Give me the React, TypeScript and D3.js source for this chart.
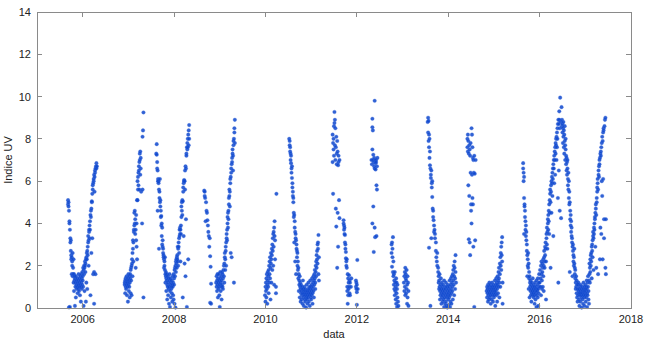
import React from "react";
import * as d3 from "d3";

// ---- Data: [decimal year, UV index] ----
const season2005: [number, number][] = [
  [2005.68,5.1],[2005.68,4.9],[2005.69,5.0],[2005.69,4.8],[2005.70,4.6],[2005.70,0.03],[2005.71,4.1],[2005.71,4.0],[2005.72,3.7],[2005.72,0.05],[2005.73,3.3],[2005.73,3.1],[2005.74,3.2],[2005.74,2.7],[2005.75,2.5],[2005.75,2.3],[2005.76,2.4],[2005.76,1.6],[2005.77,2.2],[2005.77,2.0],[2005.78,2.6],[2005.78,1.5],[2005.79,1.9],[2005.79,1.6],[2005.80,2.3],[2005.80,1.2],[2005.81,1.6],[2005.81,0.8],[2005.82,1.5],[2005.82,1.3],[2005.83,1.4],[2005.83,0.1],
  [2005.84,1.2],[2005.84,1.0],[2005.85,1.5],[2005.85,0.5],[2005.86,1.3],[2005.86,1.1],[2005.87,1.0],[2005.87,0.9],[2005.88,1.2],[2005.88,1.4],[2005.89,0.7],[2005.89,1.0],[2005.90,1.3],[2005.90,1.1],[2005.91,0.9],[2005.91,1.6],[2005.92,1.2],[2005.92,0.8],[2005.93,1.0],[2005.93,1.4],[2005.94,1.1],[2005.94,0.6],[2005.95,1.3],[2005.95,1.5],[2005.96,1.0],[2005.96,0.3],[2005.97,1.2],[2005.97,1.6],[2005.98,1.4],[2005.98,0.9],[2005.99,1.1],[2005.99,1.7],[2006.00,1.5],[2006.00,1.3],[2006.01,1.9],[2006.01,1.0],[2006.02,1.8],[2006.02,0.1],[2006.03,1.6],[2006.03,2.0],
  [2006.04,1.9],[2006.04,0.8],[2006.05,2.0],[2006.05,2.2],[2006.06,1.7],[2006.06,2.1],[2006.07,2.3],[2006.07,0.3],[2006.08,2.4],[2006.08,1.2],[2006.09,2.6],[2006.09,2.3],[2006.10,2.7],[2006.10,0.9],[2006.11,2.9],[2006.11,2.5],[2006.12,3.1],[2006.12,3.4],[2006.13,3.2],[2006.13,2.0],[2006.14,3.6],[2006.14,3.7],[2006.15,3.9],[2006.15,3.3],[2006.16,4.1],[2006.16,3.7],[2006.17,4.4],[2006.17,0.6],[2006.18,4.6],[2006.18,4.3],[2006.19,4.7],[2006.19,2.6],[2006.20,5.0],[2006.20,5.05],[2006.21,5.4],[2006.21,3.3],[2006.22,5.6],[2006.22,5.8],[2006.23,5.9],[2006.23,1.6],[2006.24,6.0],[2006.24,6.1],[2006.25,6.3],[2006.25,1.7],[2006.26,6.2],[2006.26,5.5],[2006.27,6.4],[2006.27,6.5],[2006.28,6.6],[2006.28,1.6],[2006.29,6.7],[2006.25,0.2],[2006.30,6.85],[2006.30,6.6],[2006.31,6.7],
];

const season2007: [number, number][] = [
  [2006.92,1.2],[2006.92,1.1],[2006.93,1.3],[2006.93,0.7],[2006.94,1.0],[2006.94,1.4],[2006.95,1.2],[2006.95,0.9],[2006.96,1.5],[2006.96,1.1],[2006.97,1.3],[2006.97,0.6],[2006.98,1.0],[2006.98,1.2],[2006.99,1.4],[2006.99,0.3],[2007.00,1.1],[2007.00,1.6],[2007.01,1.3],[2007.01,0.8],[2007.02,1.5],[2007.02,1.0],[2007.03,1.2],[2007.03,0.5],[2007.04,1.6],[2007.04,1.4],[2007.05,1.8],[2007.05,0.7],[2007.06,1.9],[2007.06,1.3],[2007.07,2.0],[2007.07,0.6],[2007.08,2.1],[2007.08,2.3],[2007.09,2.6],[2007.09,1.5],[2007.10,2.8],[2007.10,3.2],[2007.11,3.1],[2007.11,2.2],[2007.12,3.6],[2007.12,3.7],[2007.13,3.9],[2007.13,4.5],[2007.14,4.0],[2007.14,4.6],[2007.15,3.5],[2007.15,4.2],[2007.16,3.7],[2007.16,1.9],[2007.17,4.4],[2007.17,3.2],[2007.18,4.0],[2007.18,2.9],[2007.19,5.1],[2007.19,2.3],[2007.20,5.1],[2007.20,6.0],[2007.21,5.6],[2007.21,6.2],[2007.22,5.8],[2007.22,6.4],[2007.23,6.5],[2007.23,6.7],[2007.24,6.9],[2007.24,5.6],[2007.25,7.0],[2007.25,7.3],[2007.26,7.4],[2007.26,6.3],[2007.27,6.6],[2007.27,7.1],[2007.28,5.5],[2007.31,8.1],[2007.32,8.4],[2007.33,9.25],[2007.33,0.5],[2007.31,5.6],[2007.30,4.0],
];

const season2008: [number, number][] = [
  [2007.61,7.3],[2007.62,7.75],[2007.62,7.25],[2007.63,6.9],[2007.63,6.6],[2007.64,6.5],[2007.64,4.6],[2007.65,6.1],[2007.65,6.0],[2007.66,6.0],[2007.66,5.9],[2007.67,5.6],[2007.67,2.8],[2007.68,5.5],[2007.68,5.2],[2007.69,5.0],[2007.69,6.1],[2007.70,4.8],[2007.70,5.1],[2007.71,4.6],[2007.71,4.3],[2007.72,4.35],[2007.72,3.9],[2007.73,4.0],[2007.73,3.4],[2007.74,3.8],[2007.74,3.0],[2007.75,2.9],[2007.75,3.2],[2007.76,2.6],[2007.76,2.8],[2007.77,2.4],[2007.77,2.5],[2007.78,2.3],[2007.78,1.9],[2007.79,2.2],[2007.79,2.0],[2007.80,1.8],[2007.80,2.4],[2007.81,1.6],[2007.81,1.2],[2007.82,1.5],[2007.82,1.7],[2007.83,1.4],[2007.83,0.8],[2007.84,1.3],[2007.84,1.6],[2007.85,1.1],[2007.85,0.4],[2007.86,1.5],[2007.86,1.0],[2007.87,1.2],[2007.87,0.6],[2007.88,1.4],[2007.88,0.9],[2007.89,1.0],[2007.89,0.2],[2007.90,1.3],[2007.90,1.6],[2007.91,0.8],[2007.91,0.05],[2007.92,1.1],[2007.92,1.4],[2007.93,1.2],[2007.93,0.5],[2007.94,0.9],[2007.94,1.0],[2007.95,1.3],[2007.95,0.7],[2007.96,1.1],[2007.96,0.3],[2007.97,1.5],[2007.97,1.0],[2007.98,1.2],[2007.98,0.6],[2007.99,1.6],[2007.99,0.4],[2008.00,1.4],[2008.00,1.1],[2008.01,1.8],[2008.01,0.2],[2008.02,1.9],[2008.02,1.5],[2008.03,2.0],[2008.03,0.02],[2008.04,2.2],[2008.04,1.7],[2008.05,2.3],[2008.05,2.1],[2008.06,2.4],[2008.06,1.9],[2008.07,2.3],[2008.07,2.5],[2008.08,2.2],[2008.08,2.9],[2008.09,2.8],[2008.09,2.0],[2008.10,2.9],[2008.10,3.1],[2008.11,3.3],[2008.11,2.6],[2008.12,3.4],[2008.12,3.7],[2008.13,3.8],[2008.13,3.5],[2008.14,3.7],[2008.14,2.2],[2008.15,3.5],[2008.15,3.9],[2008.16,4.3],[2008.16,4.8],[2008.17,4.6],[2008.17,5.0],[2008.18,5.1],[2008.18,4.4],[2008.19,5.05],[2008.19,0.5],[2008.20,5.5],[2008.20,5.7],[2008.21,5.9],[2008.21,3.4],[2008.22,6.0],[2008.22,6.05],[2008.23,6.0],[2008.23,2.1],[2008.24,5.6],[2008.24,6.5],[2008.25,6.7],[2008.25,1.5],[2008.26,6.6],[2008.26,4.2],[2008.27,7.3],[2008.27,7.2],[2008.28,7.6],[2008.28,0.05],[2008.29,7.8],[2008.29,7.5],[2008.30,8.0],[2008.30,7.6],[2008.31,8.2],[2008.31,2.3],[2008.32,8.4],[2008.32,7.7],[2008.33,8.65],[2008.33,8.0],
];

const season2009: [number, number][] = [
  [2008.66,5.55],[2008.67,5.5],[2008.67,5.3],[2008.68,5.2],[2008.69,4.1],[2008.70,5.0],[2008.71,4.6],[2008.72,4.5],[2008.73,4.15],[2008.74,3.9],[2008.75,3.6],[2008.76,3.4],[2008.77,2.9],[2008.78,3.3],[2008.79,0.25],[2008.79,2.45],[2008.80,1.95],[2008.81,0.2],[2008.81,1.15],
  [2008.92,1.2],[2008.93,1.0],[2008.93,1.5],[2008.94,0.8],[2008.94,1.3],[2008.95,1.6],[2008.95,1.1],[2008.96,0.5],[2008.96,1.4],[2008.97,1.2],[2008.97,0.9],[2008.98,1.0],[2008.98,1.6],[2008.99,1.3],[2008.99,0.6],[2009.00,1.1],[2009.00,0.05],[2009.01,1.4],[2009.01,1.7],[2009.02,1.2],[2009.02,0.8],[2009.03,1.5],[2009.03,1.0],[2009.04,1.3],[2009.04,0.4],[2009.05,1.7],[2009.05,1.1],[2009.06,1.6],[2009.06,1.0],[2009.07,1.4],[2009.07,0.9],
  [2009.08,1.8],[2009.09,2.0],[2009.09,1.5],[2009.10,2.1],[2009.10,1.2],[2009.11,2.4],[2009.11,2.6],[2009.12,2.3],[2009.12,1.8],[2009.13,2.9],[2009.13,2.7],[2009.14,3.1],[2009.14,2.0],[2009.15,3.3],[2009.15,3.5],[2009.16,3.7],[2009.16,3.2],[2009.17,4.0],[2009.17,4.3],[2009.18,3.8],[2009.18,4.5],[2009.19,4.6],[2009.19,4.2],[2009.20,4.9],[2009.20,5.2],[2009.21,5.3],[2009.21,5.6],[2009.22,5.5],[2009.22,4.8],[2009.23,5.9],[2009.23,6.1],[2009.24,6.2],[2009.24,2.6],[2009.25,6.4],[2009.25,6.6],[2009.26,6.8],[2009.26,2.4],[2009.27,6.9],[2009.27,7.1],[2009.28,7.3],[2009.28,7.5],[2009.29,7.2],[2009.29,6.5],[2009.30,7.7],[2009.30,7.9],[2009.31,8.0],[2009.31,1.2],[2009.32,8.3],[2009.32,8.5],[2009.33,8.9],[2009.33,7.8],
];

const season2010: [number, number][] = [
  [2009.99,0.6],[2010.00,1.0],[2010.00,0.3],[2010.01,1.2],[2010.01,0.8],[2010.02,1.4],[2010.02,0.5],[2010.03,0.9],[2010.03,1.6],[2010.04,1.1],[2010.04,0.2],[2010.05,1.3],[2010.05,1.7],[2010.06,1.0],[2010.06,1.5],[2010.07,1.8],[2010.07,0.7],[2010.08,1.2],[2010.08,2.0],[2010.09,1.6],[2010.09,2.2],[2010.10,1.4],[2010.10,2.4],[2010.11,1.9],[2010.11,0.4],[2010.12,2.1],[2010.12,2.6],[2010.13,2.3],[2010.13,1.2],[2010.14,2.8],[2010.14,2.5],[2010.15,3.0],[2010.15,1.8],[2010.16,2.7],[2010.16,3.3],[2010.17,2.0],[2010.17,3.5],[2010.18,3.6],[2010.18,2.9],[2010.19,3.8],[2010.19,1.1],[2010.20,3.4],[2010.20,4.1],[2010.21,3.2],[2010.21,2.3],[2010.23,1.0],[2010.24,5.4],[2010.23,0.7],
  [2010.52,8.0],[2010.53,7.9],[2010.53,7.7],[2010.54,7.6],[2010.54,7.4],[2010.55,7.3],[2010.55,7.0],[2010.56,7.2],[2010.56,6.85],[2010.57,6.6],[2010.57,6.4],[2010.58,6.7],[2010.58,6.15],[2010.59,5.9],[2010.59,5.7],[2010.60,5.5],[2010.60,5.3],[2010.61,5.2],[2010.61,5.0],[2010.62,4.5],[2010.62,4.3],[2010.63,4.4],[2010.63,3.1],[2010.64,4.1],[2010.64,3.8],[2010.65,3.6],[2010.65,2.2],[2010.66,3.5],[2010.66,3.3],[2010.67,3.2],[2010.67,1.6],[2010.68,3.0],[2010.68,2.8],[2010.69,2.7],[2010.69,2.4],[2010.70,2.6],[2010.70,2.0],[2010.71,2.2],[2010.71,1.8],[2010.72,1.9],[2010.72,1.4],[2010.73,1.6],[2010.73,0.8],[2010.74,1.3],[2010.74,1.1],[2010.75,1.5],[2010.75,0.5],[2010.76,1.0],[2010.76,1.2],[2010.77,0.9],[2010.77,0.3],[2010.78,1.1],[2010.78,0.7],[2010.79,0.8],[2010.79,0.4],[2010.80,1.0],[2010.80,0.6],[2010.81,0.9],[2010.81,0.2],[2010.82,0.7],[2010.82,1.3],[2010.83,0.5],[2010.83,0.9],[2010.84,0.8],[2010.84,0.1],[2010.85,0.6],[2010.85,1.0],[2010.86,0.4],[2010.86,0.7],[2010.87,0.9],[2010.87,0.3],[2010.88,0.6],[2010.88,0.8],[2010.89,0.5],[2010.89,0.02],[2010.90,0.7],[2010.90,1.1],[2010.91,0.4],[2010.91,0.8],[2010.92,0.6],[2010.92,0.2],[2010.93,0.9],[2010.93,0.5],[2010.94,0.7],[2010.94,1.2],[2010.95,0.3],[2010.95,0.8],[2010.96,0.6],[2010.96,1.0],[2010.97,0.9],[2010.97,0.1],[2010.98,0.7],[2010.98,1.3],[2010.99,0.5],[2010.99,1.0],[2011.00,0.8],[2011.00,0.4],[2011.01,1.1],[2011.01,0.6],[2011.02,0.9],[2011.02,1.4],[2011.03,0.7],[2011.03,0.2],[2011.04,1.2],[2011.04,1.0],[2011.05,0.8],[2011.05,1.5],[2011.06,1.3],[2011.06,0.5],[2011.07,1.6],[2011.07,1.1],[2011.08,1.4],[2011.08,1.8],[2011.09,1.2],[2011.09,0.9],[2011.10,2.0],[2011.10,1.7],[2011.11,2.2],[2011.11,1.5],[2011.12,2.5],[2011.12,1.9],[2011.13,2.7],[2011.13,2.3],[2011.14,3.0],[2011.14,2.1],[2011.15,3.1],[2011.15,2.8],[2011.16,3.45],[2011.16,1.6],[2011.17,2.4],[2011.17,1.3],
];

const season2012: [number, number][] = [
  [2011.47,8.2],[2011.47,6.9],[2011.48,7.8],[2011.48,5.4],[2011.49,8.0],[2011.49,7.5],[2011.50,8.6],[2011.50,7.2],[2011.51,9.27],[2011.51,8.75],[2011.52,8.9],[2011.52,7.7],[2011.53,8.5],[2011.53,7.0],[2011.54,7.6],[2011.54,4.7],[2011.55,8.1],[2011.55,3.85],[2011.56,7.3],[2011.56,6.8],[2011.57,7.9],[2011.57,1.9],[2011.58,7.4],[2011.58,4.5],[2011.59,6.75],[2011.59,2.9],[2011.60,7.2],[2011.60,6.9],[2011.61,5.1],[2011.62,4.25],[2011.62,7.0],
  [2011.71,4.15],[2011.71,4.0],[2011.72,3.9],[2011.72,3.7],[2011.73,3.8],[2011.73,3.5],[2011.74,3.45],[2011.74,3.1],[2011.75,3.0],[2011.75,2.8],[2011.76,2.65],[2011.76,2.35],[2011.77,2.2],[2011.77,2.0],[2011.78,1.9],[2011.78,2.3],[2011.79,1.0],[2011.79,0.8],[2011.80,0.2],[2011.80,1.6],[2011.81,1.4],[2011.81,0.6],[2011.82,1.2],[2011.82,0.9],[2011.83,1.55],[2011.83,1.0],[2011.84,1.3],[2011.84,0.7],[2011.85,1.2],[2011.85,0.6],[2011.87,1.0],[2011.88,1.4],
  [2011.98,1.3],[2011.98,1.0],[2011.99,0.9],[2011.99,1.2],[2012.00,0.75],[2012.00,1.1],[2012.00,0.15],[2012.01,2.27],[2012.02,0.9],
  [2012.32,7.0],[2012.33,6.8],[2012.34,8.95],[2012.34,8.55],[2012.34,7.5],[2012.34,4.0],[2012.35,8.4],[2012.35,7.0],[2012.36,7.25],[2012.36,4.8],[2012.37,6.9],[2012.37,2.65],[2012.38,7.1],[2012.38,6.7],[2012.39,9.8],[2012.39,3.8],[2012.39,6.6],[2012.40,7.0],[2012.40,3.35],[2012.41,6.85],[2012.41,6.55],[2012.42,7.0],[2012.42,6.9],[2012.43,5.8],[2012.43,3.4],[2012.44,5.6],[2012.44,6.7],[2012.45,7.1],
];

const season2013: [number, number][] = [
  [2012.76,3.0],[2012.76,2.6],[2012.77,1.95],[2012.77,3.1],[2012.78,2.8],[2012.78,2.4],[2012.79,3.35],[2012.79,1.7],[2012.80,2.2],[2012.80,1.5],[2012.81,1.6],[2012.81,1.1],[2012.82,1.3],[2012.82,0.9],[2012.83,1.7],[2012.83,0.6],[2012.84,1.2],[2012.84,0.8],[2012.85,1.0],[2012.85,0.4],[2012.86,1.4],[2012.86,0.2],[2012.87,0.7],[2012.87,1.2],[2012.88,0.9],[2012.88,0.05],[2012.89,0.5],[2012.89,1.1],[2012.90,0.3],[2012.91,0.1],
  [2013.03,1.2],[2013.04,1.5],[2013.04,0.8],[2013.05,1.7],[2013.05,1.0],[2013.06,1.9],[2013.06,0.6],[2013.07,1.4],[2013.07,1.6],[2013.08,1.3],[2013.08,0.7],[2013.09,1.8],[2013.09,0.9],[2013.10,1.1],[2013.10,0.2],[2013.11,1.5],[2013.11,0.5],[2013.12,1.2],[2013.13,0.8],[2013.13,0.1],
  [2013.55,8.8],[2013.56,9.0],[2013.56,8.3],[2013.57,8.85],[2013.57,7.9],[2013.58,8.2],[2013.58,7.6],[2013.59,8.0],[2013.59,7.1],[2013.60,7.4],[2013.60,6.75],[2013.61,6.6],[2013.61,0.1],[2013.62,6.3],[2013.62,6.15],[2013.63,6.5],[2013.63,3.3],[2013.64,5.9],[2013.64,5.7],[2013.65,6.0],[2013.65,5.25],[2013.66,4.7],[2013.67,4.3],[2013.67,4.6],[2013.68,4.15],[2013.69,3.9],[2013.69,3.6],[2013.70,3.7],[2013.71,3.3],[2013.71,3.5],[2013.58,2.85],[2013.73,2.7],[2013.73,3.1],[2013.74,2.4],[2013.75,2.2],[2013.76,2.0],[2013.76,2.6],[2013.78,1.7],[2013.78,1.9],[2013.79,1.5],[2013.79,1.2],[2013.80,1.3],[2013.80,0.9],[2013.81,1.6],[2013.81,1.0],[2013.82,0.8],[2013.82,0.4],[2013.83,1.1],[2013.83,0.6],[2013.84,0.9],[2013.84,1.4],[2013.85,0.7],[2013.85,0.2],[2013.86,1.2],[2013.86,0.5],[2013.87,0.8],[2013.87,1.0],[2013.88,0.3],[2013.88,0.6],[2013.89,1.1],[2013.89,0.9],[2013.90,0.4],[2013.90,0.7],[2013.91,1.3],[2013.91,0.05],[2013.92,0.8],[2013.92,0.5],[2013.93,1.0],[2013.93,0.2],[2013.94,0.6],[2013.94,0.9],[2013.95,1.2],[2013.95,0.3],[2013.96,0.7],[2013.96,0.1],[2013.97,1.0],[2013.97,0.5],[2013.98,0.8],[2013.98,0.02],[2013.99,0.6],[2013.99,1.1],[2014.00,0.4],[2014.00,0.9],[2014.01,0.7],[2014.01,0.15],[2014.02,1.0],[2014.02,0.5],[2014.03,0.8],[2014.03,1.3],[2014.04,0.6],[2014.04,0.05],[2014.05,1.1],[2014.05,0.3],[2014.06,0.9],[2014.06,1.4],[2014.07,0.7],[2014.07,0.2],[2014.08,1.2],[2014.08,1.5],[2014.09,0.8],[2014.09,1.0],[2014.10,1.6],[2014.10,0.4],[2014.11,1.3],[2014.11,1.8],[2014.12,1.1],[2014.12,2.0],[2014.13,1.5],[2014.13,0.6],[2014.14,1.9],[2014.14,2.2],[2014.15,1.4],[2014.15,0.9],[2014.16,2.5],[2014.16,1.7],[2014.17,1.2],
  [2014.42,8.0],[2014.42,7.6],[2014.43,8.2],[2014.43,7.4],[2014.44,7.9],[2014.44,5.8],[2014.45,7.3],[2014.45,3.25],[2014.46,7.7],[2014.46,5.3],[2014.47,7.5],[2014.47,3.1],[2014.48,7.2],[2014.48,2.5],[2014.49,7.8],[2014.49,6.4],[2014.50,4.9],[2014.50,4.6],[2014.51,8.5],[2014.51,4.0],[2014.52,8.2],[2014.52,6.3],[2014.53,7.6],[2014.53,5.2],[2014.54,7.1],[2014.54,4.9],[2014.55,7.0],[2014.55,2.9],[2014.56,6.4],[2014.57,7.2],[2014.57,0.05],[2014.58,6.35],[2014.59,3.2],[2014.60,7.0],
];

const season2015: [number, number][] = [
  [2014.84,0.8],[2014.85,1.0],[2014.85,0.5],[2014.86,0.9],[2014.86,0.7],[2014.87,1.1],[2014.87,0.3],[2014.88,0.8],[2014.88,0.6],[2014.89,1.0],[2014.89,0.4],[2014.90,0.7],[2014.90,1.2],[2014.91,0.9],[2014.91,0.5],[2014.92,0.8],[2014.92,1.1],[2014.93,0.6],[2014.93,0.2],[2014.94,1.0],[2014.94,0.7],[2014.95,0.9],[2014.95,0.4],[2014.96,1.2],[2014.96,0.8],[2014.97,0.6],[2014.97,1.0],[2014.98,0.9],[2014.98,0.3],[2014.99,0.7],[2014.99,1.1],[2015.00,0.8],[2015.00,0.5],[2015.01,1.0],[2015.01,0.6],[2015.02,0.9],[2015.02,1.3],[2015.03,0.7],[2015.03,0.1],[2015.04,1.1],[2015.04,0.8],[2015.05,1.0],[2015.05,1.4],[2015.06,0.6],[2015.06,1.2],[2015.07,0.9],[2015.07,0.3],[2015.08,1.5],[2015.08,1.1],[2015.09,1.3],[2015.09,0.7],[2015.10,1.7],[2015.10,1.0],[2015.11,1.4],[2015.11,1.9],[2015.12,1.2],[2015.12,0.5],[2015.13,2.1],[2015.13,1.6],[2015.14,2.4],[2015.14,1.0],[2015.15,2.6],[2015.15,2.0],[2015.16,2.9],[2015.16,1.8],[2015.17,3.1],[2015.17,2.5],[2015.18,3.35],[2015.18,2.2],[2015.19,1.2],[2015.19,0.2],
  [2015.64,6.85],[2015.64,6.6],[2015.65,6.4],[2015.65,6.0],[2015.66,6.2],[2015.66,5.2],[2015.66,3.5],[2015.67,4.9],[2015.67,4.8],[2015.68,4.6],[2015.68,4.3],[2015.69,4.1],[2015.69,3.7],[2015.70,3.9],[2015.70,3.4],[2015.71,3.2],[2015.71,3.6],[2015.72,2.7],[2015.72,3.0],[2015.73,2.5],[2015.73,1.5],[2015.74,2.3],[2015.74,2.0],[2015.75,2.6],[2015.75,1.9],[2015.76,2.1],[2015.76,0.9],[2015.77,1.7],[2015.77,1.4],[2015.78,1.5],[2015.78,0.5],[2015.79,1.2],[2015.79,1.0],[2015.80,0.8],[2015.80,1.3],[2015.81,1.1],[2015.81,0.6],[2015.82,0.9],[2015.82,0.3],[2015.83,0.7],[2015.83,1.2],[2015.84,1.0],[2015.84,0.8],[2015.85,0.6],[2015.85,1.4],[2015.86,0.9],[2015.86,0.7],[2015.87,1.1],[2015.87,0.5],[2015.88,0.8],[2015.88,1.0],[2015.89,0.6],[2015.89,0.2],[2015.90,0.9],[2015.90,1.2],[2015.91,0.7],[2015.91,0.4],[2015.92,1.0],[2015.92,0.8],[2015.93,1.3],[2015.93,0.05],[2015.94,0.9],[2015.94,0.6],[2015.95,1.1],[2015.95,0.8],[2015.96,0.5],[2015.96,1.4],[2015.97,0.9],[2015.97,0.1],[2015.98,1.2],[2015.98,0.7],[2015.99,1.0],[2015.99,1.6],
];

const season2016: [number, number][] = [
  [2016.00,1.2],[2016.01,1.8],[2016.02,1.0],[2016.02,1.4],[2016.03,2.0],[2016.03,0.6],[2016.04,1.6],[2016.04,2.2],[2016.05,1.3],[2016.05,0.9],[2016.06,1.7],[2016.06,2.1],[2016.07,1.0],[2016.07,1.9],[2016.08,2.3],[2016.08,1.5],[2016.09,2.0],[2016.09,0.8],[2016.10,2.4],[2016.10,2.7],[2016.11,2.2],[2016.11,1.9],[2016.12,2.9],[2016.12,2.5],[2016.13,3.1],[2016.13,2.8],[2016.14,2.2],[2016.14,0.4],[2016.15,3.3],[2016.15,3.5],[2016.16,3.0],[2016.16,3.8],[2016.17,3.6],[2016.17,2.8],[2016.18,4.0],[2016.18,4.2],[2016.19,3.7],[2016.19,4.4],[2016.20,4.6],[2016.20,4.1],[2016.21,4.9],[2016.21,3.5],[2016.22,5.1],[2016.22,4.5],[2016.23,5.4],[2016.23,5.6],[2016.24,5.0],[2016.24,1.9],[2016.25,5.8],[2016.25,5.5],[2016.26,6.0],[2016.26,4.5],[2016.27,6.2],[2016.27,5.9],[2016.28,6.4],[2016.28,5.3],[2016.29,6.6],[2016.29,6.1],[2016.30,6.8],[2016.30,3.4],[2016.31,7.0],[2016.31,6.6],[2016.32,7.2],[2016.32,5.9],[2016.33,7.4],[2016.33,7.0],[2016.34,7.6],[2016.34,6.3],[2016.35,7.8],[2016.35,7.3],[2016.36,7.7],[2016.36,8.0],[2016.37,8.1],[2016.37,7.0],[2016.38,8.3],[2016.38,7.6],[2016.39,8.5],[2016.39,8.0],[2016.40,8.7],[2016.40,5.2],[2016.41,8.9],[2016.41,1.2],[2016.42,8.7],[2016.42,6.5],[2016.43,8.9],[2016.43,9.3],[2016.44,8.5],[2016.44,4.6],[2016.45,9.95],[2016.46,8.8],[2016.47,4.25],
  [2016.48,9.5],[2016.49,8.9],[2016.49,8.6],[2016.50,8.7],[2016.50,8.3],[2016.51,8.5],[2016.51,7.8],[2016.52,8.8],[2016.52,8.1],[2016.53,8.4],[2016.53,7.6],[2016.54,8.2],[2016.54,7.3],[2016.55,7.9],[2016.55,8.6],[2016.56,7.7],[2016.56,7.0],[2016.57,7.5],[2016.57,8.0],[2016.58,7.2],[2016.58,6.8],[2016.59,7.1],[2016.59,6.5],[2016.60,6.9],[2016.60,6.3],[2016.61,6.6],[2016.61,7.0],[2016.62,6.1],[2016.62,5.8],[2016.63,6.4],[2016.63,5.6],[2016.64,6.0],[2016.64,5.2],[2016.65,5.5],[2016.65,4.9],[2016.66,5.0],[2016.66,1.7],[2016.67,4.6],[2016.67,4.2],[2016.68,4.4],[2016.68,3.9],[2016.69,4.1],[2016.69,3.6],[2016.70,3.4],[2016.70,3.8],[2016.71,3.1],[2016.71,3.3],[2016.72,2.9],[2016.72,1.5],[2016.73,2.7],[2016.73,3.0],[2016.74,2.5],[2016.74,2.2],[2016.75,2.4],[2016.75,2.0],[2016.76,2.1],[2016.76,2.8],[2016.77,1.9],[2016.77,1.6],[2016.78,1.4],[2016.78,1.8],[2016.79,1.2],[2016.79,0.9],[2016.80,1.5],[2016.80,1.0],[2016.81,0.7],[2016.81,1.3],[2016.82,0.5],[2016.82,1.1],
  [2016.83,0.9],[2016.83,0.3],[2016.84,1.1],[2016.84,0.6],[2016.85,0.8],[2016.85,1.2],[2016.86,0.4],[2016.86,0.9],[2016.87,0.7],[2016.87,0.1],[2016.88,1.0],[2016.88,0.6],[2016.89,0.8],[2016.89,0.3],[2016.90,1.1],[2016.90,0.7],[2016.91,0.5],[2016.91,0.9],[2016.92,0.6],[2016.92,0.02],[2016.93,1.0],[2016.93,0.8],[2016.94,0.4],[2016.94,0.7],[2016.95,0.9],[2016.95,0.2],[2016.96,1.2],[2016.96,0.6],[2016.97,0.8],[2016.97,0.5],[2016.98,1.0],[2016.98,0.1],[2016.99,0.7],[2016.99,0.9],[2017.00,0.6],[2017.00,1.1],[2017.01,0.8],[2017.01,0.3],[2017.02,1.0],[2017.02,0.5],[2017.03,0.9],[2017.03,1.3],[2017.04,0.7],[2017.04,0.05],[2017.05,1.2],[2017.05,0.6],[2017.06,1.0],[2017.06,1.5],[2017.07,0.8],[2017.07,0.4],[2017.08,1.3],[2017.08,0.2],
];

const season2017: [number, number][] = [
  [2017.09,1.6],[2017.09,2.1],[2017.10,1.9],[2017.10,1.2],[2017.11,2.3],[2017.11,1.7],[2017.12,2.5],[2017.12,2.0],[2017.13,2.6],[2017.13,2.2],[2017.14,2.9],[2017.14,1.4],[2017.15,3.0],[2017.15,2.7],[2017.16,3.2],[2017.16,2.4],[2017.17,3.4],[2017.17,3.6],[2017.18,3.3],[2017.18,1.8],[2017.19,3.8],[2017.19,3.5],[2017.20,4.0],[2017.20,3.7],[2017.21,4.2],[2017.21,4.3],[2017.22,4.5],[2017.22,2.9],[2017.23,4.7],[2017.23,4.9],[2017.24,4.4],[2017.24,1.9],[2017.25,5.2],[2017.25,5.0],[2017.26,5.5],[2017.26,5.7],[2017.27,5.9],[2017.27,6.1],[2017.28,5.6],[2017.28,1.6],[2017.29,6.3],[2017.29,6.5],[2017.30,6.7],[2017.30,6.2],[2017.31,7.0],[2017.31,6.8],[2017.32,7.1],[2017.32,2.3],[2017.33,7.3],[2017.33,3.8],[2017.34,7.4],[2017.34,7.2],[2017.35,7.6],[2017.35,3.5],[2017.36,7.8],[2017.36,6.0],[2017.37,8.1],[2017.37,5.3],[2017.38,7.9],[2017.38,2.3],[2017.39,8.3],[2017.39,6.1],[2017.40,8.5],[2017.40,8.4],[2017.41,4.2],[2017.41,3.3],[2017.42,8.6],[2017.43,8.9],[2017.44,9.0],[2017.44,1.9],[2017.45,1.6],[2017.45,4.2],
];

const xTicks = [2006, 2008, 2010, 2012, 2014, 2016, 2018];
const yTicks = [0, 2, 4, 6, 8, 10, 12, 14];
const xLabel = "data";
const yLabel = "Indice UV";

const W = 650;
const H = 340;
const M = { left: 37, right: 19, top: 12, bottom: 32 };

export default function App() {
  const all = [
    ...season2005, ...season2007, ...season2008, ...season2009, ...season2010,
    ...season2012, ...season2013, ...season2015, ...season2016, ...season2017,
  ];
  const x = d3.scaleLinear().domain([2005, 2018]).range([M.left, W - M.right]);
  const y = d3.scaleLinear().domain([0, 14]).range([H - M.bottom, M.top]);
  const x0 = M.left, x1 = W - M.right, y0 = H - M.bottom, y1 = M.top;
  const tick = 5;
  const axisColor = "#8a8a8a";
  const font = "'Liberation Sans', Arial, Helvetica, sans-serif";
  return (
    <svg width={W} height={H} style={{ position: "absolute", left: 0, top: 0, background: "#fff" }}>
      <g>
        {all.map((d, i) => (
          <circle key={i} cx={x(d[0])} cy={y(d[1])} r={1.8} fill="#0d46cc" fillOpacity={0.85} stroke="#3a68dc" strokeOpacity={0.6} strokeWidth={0.5} />
        ))}
      </g>
      <g stroke={axisColor} strokeWidth={1} fill="none" shapeRendering="crispEdges">
        <rect x={x0} y={y1} width={x1 - x0} height={y0 - y1} />
        {xTicks.map((t) => (
          <g key={"xt" + t}>
            <line x1={x(t)} x2={x(t)} y1={y0} y2={y0 - tick} />
            <line x1={x(t)} x2={x(t)} y1={y1} y2={y1 + tick} />
          </g>
        ))}
        {yTicks.map((t) => (
          <g key={"yt" + t}>
            <line x1={x0} x2={x0 + tick} y1={y(t)} y2={y(t)} />
            <line x1={x1} x2={x1 - tick} y1={y(t)} y2={y(t)} />
          </g>
        ))}
      </g>
      <g fontFamily={font} fontSize={11} fill="#222">
        {xTicks.map((t) => (
          <text key={"xl" + t} x={x(t)} y={y0 + 15} textAnchor="middle">{t}</text>
        ))}
        {yTicks.map((t) => (
          <text key={"yl" + t} x={x0 - 6} y={y(t) + 4} textAnchor="end">{t}</text>
        ))}
        <text x={(x0 + x1) / 2} y={H - 2} textAnchor="middle">{xLabel}</text>
        <text transform={`translate(12, ${(y0 + y1) / 2}) rotate(-90)`} textAnchor="middle">{yLabel}</text>
      </g>
    </svg>
  );
}
